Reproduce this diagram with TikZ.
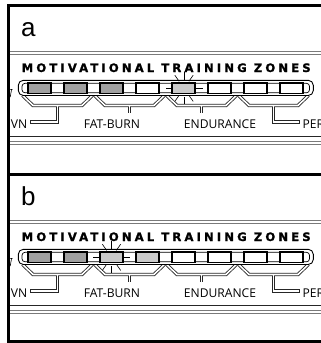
\documentclass[tikz,border=0pt]{standalone}
\usepackage{fontspec}
\setmainfont{Liberation Sans}
\newfontfamily\lblfont{Open Sans}
\newfontfamily\ttlfont[LetterSpace=27,FakeBold=1.2]{DejaVu Sans Bold}
\usetikzlibrary{calc}
\definecolor{darkcell}{HTML}{A0A0A0}
\definecolor{lightcell}{HTML}{CACACA}
\definecolor{rulegray}{HTML}{7A7A7A}
\tikzset{
  frameline/.style={line width=2.6pt, black, line cap=rect},
  grayrule/.style={line width=0.8pt, rulegray},
  darkrule/.style={line width=1.1pt, black!85},
  barouter/.style={line width=0.9pt, rounded corners=5pt},
  barinner/.style={line width=0.7pt, rounded corners=3pt},
  cellbox/.style={draw=black, line width=1.1pt},
  brkout/.style={line width=3.3pt, black!85, line join=miter},
  brkin/.style={line width=1.6pt, white, line join=miter},
  ray/.style={line width=0.6pt, black},
  lbl/.style={font=\lblfont\fontsize{12.1}{13}\selectfont, inner sep=0pt},
  ttl/.style={font=\ttlfont\fontsize{11.6}{12}\selectfont, inner sep=0pt},
  panellbl/.style={font=\fontsize{26}{28}\selectfont, inner sep=0pt}
}
\begin{document}
\begin{tikzpicture}[x=1pt,y=-1pt]
\useasboundingbox (0,0) rectangle (321,343);
\fill[white] (0,0) rectangle (321,343);
% panels
\foreach \oy/\pl/\fa/\fb/\fc/\fd/\fe/\ff/\fg/\fh/\hx in
  {0/a/darkcell/darkcell/darkcell/white/lightcell/white/white/white/184,
   169/b/darkcell/darkcell/lightcell/lightcell/white/white/white/white/111.5}{
\begin{scope}[yshift=-\oy pt]
  \node[panellbl, anchor=base west] (p\pl) at (21,36) {\pl};
  \draw[grayrule] (8.7,51.8) -- (321,51.8);
  \draw[grayrule] (8.7,54.4) -- (321,54.4);
  \node[ttl, anchor=base west] (t\pl) at (21.5,72) {MOTIVATIONAL TRAINING ZONES};
  % small clipped mark at left
  \draw[line width=0.6pt] (8.7,89.3) -- (12.5,89.3) (11.6,89.3) -- (10.2,97);
  % brackets
  \foreach \c in {57.5,129.5,201.5,273.5}{
    \draw[brkout] (\c-35,95.3) -- (\c-24.5,105.5) -- (\c+24.5,105.5) -- (\c+35,95.3);
  }
  \draw[brkout] (129.5,105.5) -- (129.5,113.3);
  \draw[brkout] (201.5,105.5) -- (201.5,113.3);
  \draw[brkout] (57.5,105.5) -- (57.5,122) -- (30,122);
  \draw[brkout] (273.5,105.5) -- (273.5,122) -- (300,122);
  \foreach \c in {57.5,129.5,201.5,273.5}{
    \draw[brkin] (\c-35,95.3) -- (\c-24.5,105.5) -- (\c+24.5,105.5) -- (\c+35,95.3);
  }
  \draw[brkin] (129.5,105.5) -- (129.5,112.5);
  \draw[brkin] (201.5,105.5) -- (201.5,112.5);
  \draw[brkin] (57.5,105.5) -- (57.5,122) -- (30.8,122);
  \draw[brkin] (273.5,105.5) -- (273.5,122) -- (299.2,122);
  % bar
  \draw[barouter, fill=white] (18.3,80.3) rectangle (313.3,95.5);
  \draw[barinner] (22,83.3) rectangle (309.5,92.8);
  \foreach \i/\col in {0/\fa,1/\fb,2/\fc,3/\fd,4/\fe,5/\ff,6/\fg,7/\fh}{
    \draw[cellbox, fill=\col] (28+36*\i,83) rectangle (51+36*\i,93.6);
  }
  % sparkle around highlighted cell
  \coordinate (h\pl) at (\hx,88.3);
  \foreach \a in {55,90,125,235,270,305}{
    \draw[ray] ($(h\pl)+(\a:8.5)$) -- ($(h\pl)+(\a:16)$);
  }
  \draw[ray] ($(h\pl)+(-11.5,0)$) -- ($(h\pl)+(-18.5,0)$);
  \draw[ray] ($(h\pl)+(11.5,0)$) -- ($(h\pl)+(18.5,0)$);
  % labels
  \node[lbl, anchor=base east] (l1\pl) at (27.5,128) {VN};
  \node[lbl, anchor=base] (l2\pl) at (112,128) {FAT-BURN};
  \node[lbl, anchor=base] (l3\pl) at (220,128) {ENDURANCE};
  \node[lbl, anchor=base west] (l4\pl) at (302.5,128) {PER};
  % rules under labels
  \draw[darkrule] (8.7,136.3) -- (321,136.3);
  \draw[grayrule] (8.7,141.2) -- (321,141.2);
  \draw[grayrule] (8.7,144) -- (321,144);
\end{scope}
}
% frame
\draw[frameline] (321,5.5) -- (8.7,5.5) -- (8.7,341.3) -- (321,341.3);
\draw[frameline] (8.7,174.5) -- (321,174.5);
\end{tikzpicture}
\end{document}
